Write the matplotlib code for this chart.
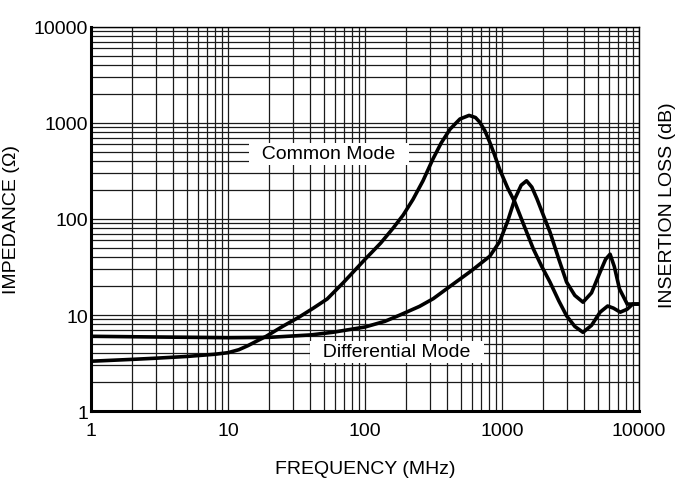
import numpy as np
import matplotlib
matplotlib.use('Agg')
import matplotlib.pyplot as plt
from matplotlib.ticker import LogLocator, FixedLocator, NullFormatter

plt.rcParams['font.family'] = ['Liberation Sans', 'DejaVu Sans']

# common mode impedance (ohm) vs frequency (MHz)
cm_freq = [1, 2, 3, 5, 8, 10, 12, 14, 16, 19, 25, 33, 42, 53, 70, 100, 130,
           160, 190, 224, 265, 313, 360, 418, 493, 575, 640, 688, 750, 812,
           880, 960, 1100, 1240, 1450, 1690, 1950, 2240, 2600, 2960, 3400,
           3900, 4500, 5200, 5900, 6500, 7300, 8200, 9000, 10000]
cm_imp = [3.3, 3.45, 3.55, 3.7, 3.9, 4.05, 4.35, 4.8, 5.3, 6.0, 7.6, 9.5, 11.8,
          14.7, 22, 38, 56, 80, 110, 160, 250, 421, 620, 864, 1100, 1200,
          1140, 1020, 830, 635, 470, 330, 210, 150, 85, 49, 32, 22, 14, 9.8,
          7.6, 6.6, 7.8, 10.7, 12.4, 11.8, 10.7, 11.5, 13, 13]

# differential mode impedance
dm_freq = [1, 3, 10, 20, 40, 58, 100, 140, 180, 250, 315, 420, 600, 815, 960,
           1100, 1240, 1380, 1510, 1650, 1800, 2000, 2240, 2600, 2960, 3400,
           3900, 4500, 5200, 5700, 6150, 6600, 7200, 8200, 9000, 10000]
dm_imp = [6.0, 5.9, 5.8, 5.85, 6.2, 6.6, 7.5, 8.6, 10.0, 12.3, 14.8, 20, 29,
          41, 58, 95, 162, 225, 250, 215, 162, 110, 73, 38, 22, 16, 13.6, 17,
          28, 38, 43, 32, 18.7, 13, 13, 13]

ticks = [1, 10, 100, 1000, 10000]
tick_labels = ['1', '10', '100', '1000', '10000']

fig = plt.figure(figsize=(6.77, 4.85), dpi=100)
ax = fig.add_axes([0.1344, 0.1505, 0.8095, 0.7918])

ax.plot(cm_freq, cm_imp, color='black', lw=2.6, solid_joinstyle='round', zorder=5)
ax.plot(dm_freq, dm_imp, color='black', lw=2.6, solid_joinstyle='round', zorder=5)

ax.set_xscale('log')
ax.set_yscale('log')
ax.set_xlim(1, 10000)
ax.set_ylim(1, 10000)

ax.xaxis.set_major_locator(FixedLocator(ticks))
ax.yaxis.set_major_locator(FixedLocator(ticks))
ax.set_xticklabels(tick_labels)
ax.set_yticklabels(tick_labels)
ax.xaxis.set_minor_locator(LogLocator(base=10, subs=np.arange(2, 10)))
ax.yaxis.set_minor_locator(LogLocator(base=10, subs=np.arange(2, 10)))
ax.xaxis.set_minor_formatter(NullFormatter())
ax.yaxis.set_minor_formatter(NullFormatter())
ax.tick_params(which='both', length=0, labelsize=14, colors='black')
ax.tick_params(axis='x', pad=8)
ax.tick_params(axis='y', pad=2)

ax.grid(which='both', color='#1a1a1a', lw=0.9)
ax.set_axisbelow(True)

for s in ['left', 'bottom']:
    ax.spines[s].set_linewidth(2.2)
for s in ['top', 'right']:
    ax.spines[s].set_linewidth(1.0)

ax.text(54.6, 476, '  Common Mode  ', fontsize=14, ha='center', va='center',
        bbox=dict(facecolor='white', edgecolor='none', pad=1.5), zorder=4)
ax.text(171, 4.12, '  Differential Mode  ', fontsize=14, ha='center', va='center',
        bbox=dict(facecolor='white', edgecolor='none', pad=1.5), zorder=4)

ax.set_ylabel('IMPEDANCE (\u03a9)', fontsize=14, labelpad=10)
fig.text(365 / 677, 1 - 470 / 485, 'FREQUENCY (MHz)', fontsize=14,
         ha='center', va='center')
fig.text(667 / 677, 1 - 205 / 485, 'INSERTION LOSS (dB)', fontsize=14,
         rotation=90, ha='center', va='center')

fig.savefig('out.png', dpi=100)
